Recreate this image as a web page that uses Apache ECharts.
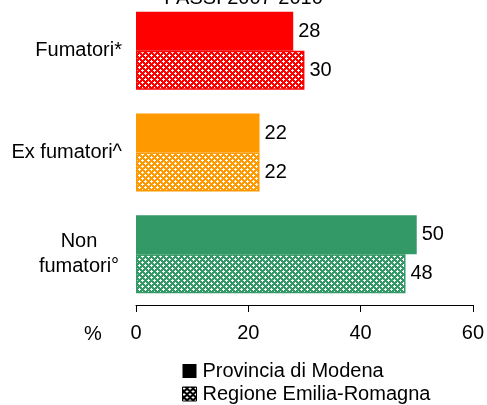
<!DOCTYPE html>
<html>
<head>
<meta charset="utf-8">
<script src="https://cdn.jsdelivr.net/npm/echarts@6/dist/echarts.min.js"></script>
<style>
  html, body { margin: 0; padding: 0; background: #fff; }
  #chart { width: 487px; height: 405px; }
</style>
</head>
<body>
<div id="chart"></div>
<script>
const categories = ['Fumatori*', 'Ex fumatori^', 'Non\nfumatori°']
const modena = [28, 22, 50]
const regione = [30, 22, 48]
const barColors = ['#ff0000', '#ff9900', '#339966']
const xTicks = {min: 0, max: 60, interval: 20}

const FONT = 'Liberation Sans'
const FS = 20

// small crosshatch tile like the Excel pattern fill
const hatch = (color) => {
  const c = document.createElement('canvas')
  c.width = 6
  c.height = 6
  const ctx = c.getContext('2d')
  ctx.fillStyle = color
  ctx.fillRect(0, 0, 6, 6)
  ctx.fillStyle = '#fff'
  const dots = [[1, 0], [0, 1], [1, 1], [2, 1], [1, 2], [4, 3], [3, 4], [4, 4], [5, 4], [4, 5]]
  dots.forEach(([x, y]) => ctx.fillRect(x, y, 1, 1))
  return {image: c, repeat: 'repeat'}
}

const myChart = echarts.init(document.getElementById('chart'))

const labelStyle = {show: true, position: 'right', distance: 5, color: '#000', fontSize: FS, fontFamily: FONT}

const option = {
  animation: false,
  title: {
    text: 'PASSI 2007-2010',
    left: 'center',
    top: -17,
    textStyle: {fontSize: FS, fontWeight: 'normal', color: '#000', fontFamily: FONT}
  },
  grid: {left: 136, right: 11, top: 0, bottom: 100},
  legend: {
    orient: 'vertical',
    left: 182,
    top: 361,
    padding: 0,
    itemWidth: 14,
    itemHeight: 14,
    itemGap: 3,
    icon: 'rect',
    textStyle: {fontSize: FS, color: '#000', fontFamily: FONT, padding: [0, 0, 0, 1]},
    data: [
      {name: 'Provincia di Modena', itemStyle: {color: '#000'}},
      {name: 'Regione Emilia-Romagna', itemStyle: {color: hatch('#000'), borderColor: '#000', borderWidth: 1}}
    ]
  },
  graphic: [{
    type: 'text',
    left: 84,
    top: 324,
    style: {text: '%', fontSize: FS, fill: '#000', fontFamily: FONT}
  }],
  xAxis: {
    type: 'value',
    min: xTicks.min,
    max: xTicks.max,
    interval: xTicks.interval,
    axisLine: {show: true, lineStyle: {color: '#000', width: 1}},
    axisTick: {show: true, length: 7, lineStyle: {color: '#000'}},
    axisLabel: {color: '#000', fontSize: FS, margin: 18, fontFamily: FONT},
    splitLine: {show: false}
  },
  yAxis: {
    type: 'category',
    inverse: true,
    data: categories,
    axisLine: {show: false},
    axisTick: {show: false},
    axisLabel: {
      color: '#000',
      fontSize: FS,
      margin: 14,
      fontFamily: FONT,
      lineHeight: 25,
      formatter: (v) => v.indexOf('\n') >= 0 ? v.split('\n').map(s => '{n|' + s + '}').join('\n') : v,
      rich: {n: {width: 86, align: 'center', fontSize: FS, lineHeight: 25, fontFamily: FONT}}
    }
  },
  series: [
    {
      name: 'Provincia di Modena',
      type: 'bar',
      barWidth: 39,
      barGap: '0%',
      data: modena.map((v, i) => ({value: v, itemStyle: {color: barColors[i]}})),
      label: labelStyle
    },
    {
      name: 'Regione Emilia-Romagna',
      type: 'bar',
      barWidth: 39,
      barGap: '0%',
      data: regione.map((v, i) => ({value: v, itemStyle: {color: hatch(barColors[i]), borderColor: barColors[i], borderWidth: 1.5}})),
      label: labelStyle
    }
  ]
}

myChart.setOption(option)
</script>
</body>
</html>
